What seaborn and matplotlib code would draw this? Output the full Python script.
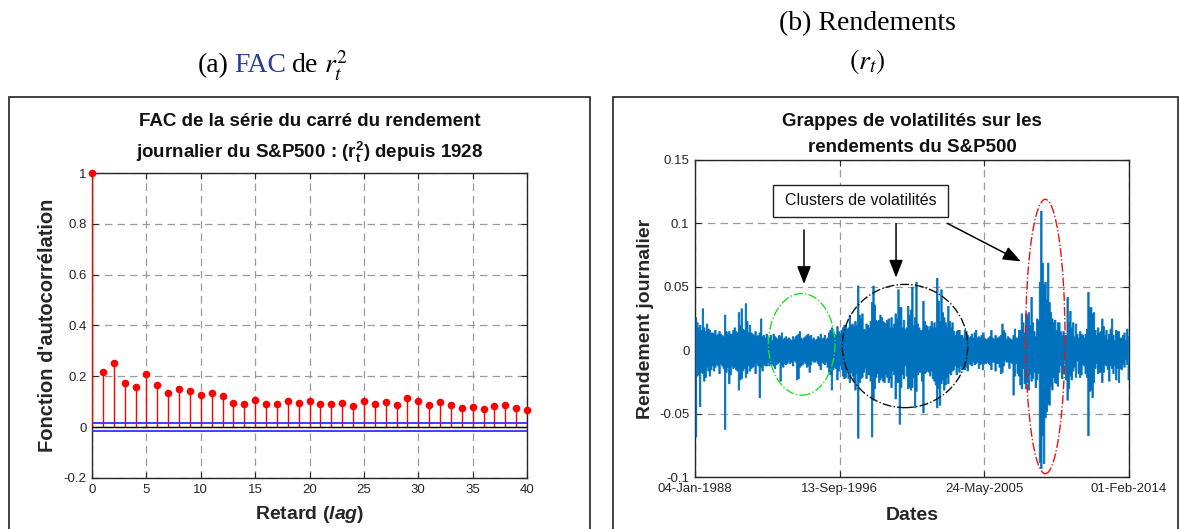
import numpy as np
import pandas as pd
import matplotlib
matplotlib.use("Agg")
import matplotlib.pyplot as plt
import matplotlib.dates as mdates
import seaborn as sns
from matplotlib.patches import Ellipse, Rectangle
from datetime import datetime

# ---------------- data: left panel (ACF of squared returns) ----------------
lags = list(range(41))
acf_values = [1.000, 0.217, 0.253, 0.173, 0.157, 0.210, 0.164, 0.134, 0.150, 0.142,
              0.126, 0.135, 0.122, 0.095, 0.091, 0.106, 0.091, 0.091, 0.102, 0.095,
              0.102, 0.091, 0.091, 0.095, 0.083, 0.102, 0.091, 0.098, 0.087, 0.114,
              0.102, 0.087, 0.098, 0.087, 0.075, 0.079, 0.071, 0.083, 0.087, 0.075,
              0.067]
conf_upper = 0.0150
conf_lower = -0.0135
lag_ticks = [0, 5, 10, 15, 20, 25, 30, 35, 40]
acf_ticks = [-0.2, 0, 0.2, 0.4, 0.6, 0.8, 1]
acf_ticklabels = ["-0.2", "0", "0.2", "0.4", "0.6", "0.8", "1"]

# ---------------- data: right panel (monthly max / min of daily returns) ----------------
monthly_high = [
    0.026, 0.022, 0.018, 0.020, 0.016, 0.033, 0.018, 0.015, 0.021, 0.017, 0.016, 0.014,  # 1988
    0.014, 0.013, 0.016, 0.012, 0.013, 0.015, 0.013, 0.012, 0.011, 0.028, 0.015, 0.013,  # 1989
    0.015, 0.013, 0.013, 0.016, 0.018, 0.015, 0.014, 0.030, 0.020, 0.033, 0.017, 0.016,  # 1990
    0.037, 0.023, 0.014, 0.020, 0.014, 0.013, 0.012, 0.015, 0.011, 0.012, 0.014, 0.025,  # 1991
    0.011, 0.012, 0.010, 0.013, 0.009, 0.010, 0.012, 0.008, 0.013, 0.011, 0.010, 0.009,  # 1992
    0.012, 0.011, 0.014, 0.009, 0.010, 0.011, 0.009, 0.010, 0.009, 0.008, 0.011, 0.009,  # 1993
    0.011, 0.012, 0.013, 0.015, 0.010, 0.009, 0.010, 0.011, 0.012, 0.013, 0.011, 0.012,  # 1994
    0.009, 0.010, 0.008, 0.009, 0.011, 0.010, 0.013, 0.009, 0.010, 0.012, 0.009, 0.010,  # 1995
    0.014, 0.016, 0.018, 0.014, 0.013, 0.012, 0.019, 0.015, 0.013, 0.016, 0.018, 0.020,  # 1996
    0.020, 0.017, 0.018, 0.028, 0.020, 0.021, 0.019, 0.023, 0.020, 0.051, 0.028, 0.025,  # 1997
    0.029, 0.017, 0.016, 0.021, 0.020, 0.018, 0.023, 0.038, 0.051, 0.036, 0.024, 0.023,  # 1998
    0.024, 0.028, 0.026, 0.023, 0.022, 0.021, 0.024, 0.025, 0.018, 0.026, 0.018, 0.021,  # 1999
    0.029, 0.025, 0.048, 0.034, 0.034, 0.018, 0.024, 0.017, 0.018, 0.035, 0.028, 0.032,  # 2000
    0.050, 0.020, 0.026, 0.054, 0.021, 0.018, 0.016, 0.016, 0.039, 0.023, 0.020, 0.019,  # 2001
    0.016, 0.019, 0.023, 0.018, 0.022, 0.018, 0.057, 0.039, 0.023, 0.048, 0.030, 0.026,  # 2002
    0.022, 0.018, 0.035, 0.023, 0.018, 0.022, 0.015, 0.012, 0.015, 0.016, 0.016, 0.012,  # 2003
    0.012, 0.010, 0.016, 0.015, 0.012, 0.010, 0.011, 0.013, 0.010, 0.014, 0.016, 0.010,  # 2004
    0.011, 0.010, 0.012, 0.014, 0.010, 0.009, 0.009, 0.010, 0.011, 0.016, 0.010, 0.009,  # 2005
    0.012, 0.010, 0.010, 0.011, 0.012, 0.021, 0.016, 0.014, 0.009, 0.011, 0.010, 0.009,  # 2006
    0.009, 0.012, 0.017, 0.010, 0.010, 0.016, 0.016, 0.029, 0.022, 0.014, 0.029, 0.028,  # 2007
    0.030, 0.020, 0.042, 0.022, 0.015, 0.011, 0.025, 0.024, 0.054, 0.110, 0.069, 0.052,  # 2008
    0.054, 0.040, 0.069, 0.038, 0.030, 0.025, 0.022, 0.024, 0.016, 0.022, 0.022, 0.015,  # 2009
    0.012, 0.015, 0.012, 0.012, 0.042, 0.022, 0.031, 0.018, 0.022, 0.011, 0.021, 0.013,  # 2010
    0.010, 0.015, 0.013, 0.012, 0.010, 0.013, 0.017, 0.046, 0.034, 0.034, 0.029, 0.030,  # 2011
    0.016, 0.012, 0.018, 0.014, 0.015, 0.025, 0.019, 0.012, 0.016, 0.009, 0.013, 0.017,  # 2012
    0.025, 0.012, 0.008, 0.016, 0.015, 0.015, 0.010, 0.010, 0.012, 0.014, 0.008, 0.017,  # 2013
    0.011,                                                                                # 2014
]
monthly_low = [
    -0.068, -0.020, -0.019, -0.044, -0.017, -0.018, -0.024, -0.021, -0.013, -0.016, -0.020, -0.015,  # 1988
    -0.012, -0.016, -0.013, -0.011, -0.012, -0.018, -0.010, -0.012, -0.014, -0.062, -0.017, -0.013,  # 1989
    -0.026, -0.019, -0.012, -0.014, -0.013, -0.015, -0.016, -0.031, -0.023, -0.022, -0.016, -0.014,  # 1990
    -0.021, -0.018, -0.012, -0.016, -0.014, -0.013, -0.012, -0.018, -0.010, -0.012, -0.037, -0.013,  # 1991
    -0.016, -0.011, -0.012, -0.012, -0.009, -0.012, -0.010, -0.011, -0.012, -0.014, -0.011, -0.010,  # 1992
    -0.009, -0.024, -0.012, -0.013, -0.010, -0.011, -0.010, -0.008, -0.010, -0.009, -0.012, -0.008,  # 1993
    -0.009, -0.023, -0.022, -0.013, -0.012, -0.011, -0.009, -0.010, -0.013, -0.012, -0.017, -0.011,  # 1994
    -0.008, -0.009, -0.009, -0.008, -0.010, -0.012, -0.015, -0.009, -0.010, -0.011, -0.009, -0.013,  # 1995
    -0.017, -0.019, -0.031, -0.015, -0.013, -0.014, -0.023, -0.016, -0.012, -0.015, -0.020, -0.022,  # 1996
    -0.021, -0.017, -0.022, -0.025, -0.017, -0.020, -0.024, -0.031, -0.018, -0.069, -0.025, -0.022,  # 1997
    -0.021, -0.017, -0.014, -0.022, -0.019, -0.019, -0.024, -0.068, -0.039, -0.030, -0.021, -0.018,  # 1998
    -0.025, -0.023, -0.021, -0.024, -0.025, -0.019, -0.021, -0.025, -0.022, -0.029, -0.016, -0.019,  # 1999
    -0.038, -0.025, -0.025, -0.058, -0.029, -0.019, -0.022, -0.012, -0.020, -0.030, -0.029, -0.031,  # 2000
    -0.029, -0.021, -0.045, -0.032, -0.019, -0.017, -0.017, -0.024, -0.049, -0.018, -0.017, -0.016,  # 2001
    -0.017, -0.020, -0.016, -0.022, -0.024, -0.027, -0.045, -0.030, -0.043, -0.026, -0.023, -0.031,  # 2002
    -0.027, -0.021, -0.026, -0.018, -0.019, -0.016, -0.015, -0.012, -0.019, -0.013, -0.017, -0.012,  # 2003
    -0.015, -0.012, -0.015, -0.013, -0.016, -0.010, -0.011, -0.012, -0.009, -0.011, -0.010, -0.009,  # 2004
    -0.014, -0.011, -0.010, -0.015, -0.010, -0.010, -0.009, -0.010, -0.011, -0.015, -0.009, -0.009,  # 2005
    -0.016, -0.010, -0.010, -0.013, -0.018, -0.017, -0.012, -0.008, -0.009, -0.009, -0.014, -0.009,  # 2006
    -0.010, -0.035, -0.020, -0.010, -0.018, -0.020, -0.027, -0.030, -0.014, -0.026, -0.030, -0.025,  # 2007
    -0.031, -0.019, -0.024, -0.022, -0.017, -0.029, -0.023, -0.018, -0.088, -0.093, -0.067, -0.089,  # 2008
    -0.053, -0.048, -0.042, -0.043, -0.028, -0.031, -0.021, -0.025, -0.026, -0.028, -0.017, -0.012,  # 2009
    -0.022, -0.018, -0.008, -0.023, -0.039, -0.030, -0.020, -0.023, -0.016, -0.013, -0.021, -0.008,  # 2010
    -0.018, -0.021, -0.019, -0.011, -0.012, -0.018, -0.021, -0.067, -0.032, -0.031, -0.037, -0.025,  # 2011
    -0.014, -0.010, -0.018, -0.017, -0.017, -0.025, -0.017, -0.011, -0.012, -0.015, -0.024, -0.012,  # 2012
    -0.014, -0.018, -0.012, -0.023, -0.014, -0.025, -0.014, -0.015, -0.011, -0.013, -0.007, -0.011,  # 2013
    -0.023,                                                                                          # 2014
]
date_ticks = ["1988-01-04", "1996-09-13", "2005-05-24", "2014-02-01"]
date_ticklabels = ["04-Jan-1988", "13-Sep-1996", "24-May-2005", "01-Feb-2014"]
ret_ticks = [-0.1, -0.05, 0, 0.05, 0.1, 0.15]
ret_ticklabels = ["-0.1", "-0.05", "0", "0.05", "0.1", "0.15"]

# ---------------- style ----------------
sns.set_theme(style="white")
plt.rcParams["font.family"] = ["Liberation Sans", "DejaVu Sans"]
plt.rcParams["mathtext.fontset"] = "custom"
plt.rcParams["mathtext.rm"] = "Liberation Sans"
plt.rcParams["mathtext.it"] = "Liberation Sans:italic"
plt.rcParams["mathtext.bf"] = "Liberation Sans:bold"
plt.rcParams["mathtext.bfit"] = "Liberation Sans:italic:bold"

W, H = 1180, 529
fig = plt.figure(figsize=(W / 100, H / 100), dpi=100)
fig.patch.set_facecolor("white")


def fx(px):
    return px / W


def fy(py):
    return 1 - py / H


TICK_COL = "#262626"
GRID_KW = dict(color="#9a9a9a", linestyle=(0, (6, 4)), linewidth=0.9)
BLUE = "#0072BD"


def style_axes(ax):
    ax.set_facecolor("white")
    for s in ax.spines.values():
        s.set_visible(True)
        s.set_color("#262626")
        s.set_linewidth(1.0)
    ax.tick_params(direction="in", length=4, width=0.8, color=TICK_COL,
                   labelcolor=TICK_COL, labelsize=9.5,
                   bottom=True, top=True, left=True, right=True, pad=4)
    ax.grid(True, **GRID_KW)
    ax.set_axisbelow(True)


# outer frames
fig.add_artist(Rectangle((fx(9), -0.05), fx(590) - fx(9), fy(97) + 0.05,
                         transform=fig.transFigure, fill=False, lw=1.2, ec="#222222"))
fig.add_artist(Rectangle((fx(613), -0.05), fx(1178) - fx(613), fy(97) + 0.05,
                         transform=fig.transFigure, fill=False, lw=1.2, ec="#222222"))

# ---------------- left panel ----------------
axL = fig.add_axes([fx(92), fy(478), fx(527) - fx(92), fy(173) - fy(478)])
style_axes(axL)
acf_df = pd.DataFrame({"lag": lags, "acf": acf_values})
axL.vlines(acf_df["lag"], 0, acf_df["acf"], color="#ff0000", lw=1.0, zorder=3)
sns.scatterplot(data=acf_df, x="lag", y="acf", ax=axL, color="#ff0000",
                s=30, edgecolor="#ff0000", linewidth=0, zorder=4, clip_on=False)
axL.plot([0, 40], [0, 0], color="black", lw=1.0, zorder=3)
axL.plot([0, 40], [conf_upper, conf_upper], color="#3030ff", lw=1.3, zorder=3)
axL.plot([0, 40], [conf_lower, conf_lower], color="#3030ff", lw=1.3, zorder=3)
axL.set_xlim(0, 40)
axL.set_ylim(-0.2, 1)
axL.set_xticks(lag_ticks)
axL.set_xticklabels([str(t) for t in lag_ticks])
axL.set_yticks(acf_ticks)
axL.set_yticklabels(acf_ticklabels)
axL.set_xlabel(r"Retard ($\mathbfit{lag}$)", fontsize=14, fontweight="bold", color="#262626")
axL.set_ylabel("Fonction d'autocorrélation", fontsize=14.5, fontweight="bold", color="#262626")
axL.xaxis.label.set_va("center")
axL.yaxis.label.set_va("center")
axL.xaxis.set_label_coords(0.5, -0.121)
axL.yaxis.set_label_coords(-0.103, 0.5)

fig.text(fx(310), fy(122), "FAC de la série du carré du rendement",
         ha="center", va="center", fontsize=13.5, fontweight="bold", color="#111111")
fig.text(fx(310), fy(152), r"journalier du S&P500 : ($\mathbf{r_t^2}$) depuis 1928",
         ha="center", va="center", fontsize=13.5, fontweight="bold", color="#111111")

# ---------------- right panel ----------------
axR = fig.add_axes([fx(695), fy(477), fx(1129) - fx(695), fy(160) - fy(477)])
style_axes(axR)
months = pd.date_range("1988-01-01", periods=len(monthly_high), freq="MS") + pd.Timedelta(days=14)
ret_df = pd.DataFrame({"date": mdates.date2num(months), "high": monthly_high, "low": monthly_low})
axR.fill_between(ret_df["date"], ret_df["low"], ret_df["high"], step="mid",
                 color=BLUE, lw=0.6, edgecolor=BLUE, zorder=3)
sns.lineplot(x=ret_df["date"], y=[0.0] * len(ret_df), ax=axR, color=BLUE, lw=1.0, zorder=3)
d_start = mdates.date2num(datetime(1988, 1, 4))
d_end = mdates.date2num(datetime(2014, 2, 1))
axR.set_xlim(d_start, d_end)
axR.set_ylim(-0.1, 0.15)
axR.set_xticks([mdates.date2num(pd.Timestamp(d)) for d in date_ticks])
axR.set_xticklabels(date_ticklabels)
axR.set_yticks(ret_ticks)
axR.set_yticklabels(ret_ticklabels)
axR.set_xlabel("Dates", fontsize=14, fontweight="bold", color="#262626")
axR.set_ylabel("Rendement journalier", fontsize=14, fontweight="bold", color="#262626")
axR.xaxis.label.set_va("center")
axR.yaxis.label.set_va("center")
axR.xaxis.set_label_coords(0.5, -0.12)
axR.yaxis.set_label_coords(-0.115, 0.5)


def yr(f):
    return d_start + (f - 1988.0) * 365.25


# ellipses (cluster highlights)
axR.add_patch(Ellipse((yr(1994.41), 0.0046), 2 * 2.0 * 365.25, 2 * 0.0401,
                      fill=False, ec="#22dd22", lw=1.0, ls="-.", zorder=5))
axR.add_patch(Ellipse((yr(2000.62), 0.0033), 2 * 3.77 * 365.25, 2 * 0.0486,
                      fill=False, ec="#111111", lw=1.0, ls="-.", zorder=5))
axR.add_patch(Ellipse((yr(2009.05), 0.0108), 2 * 1.18 * 365.25, 2 * 0.1082,
                      fill=False, ec="#ee1111", lw=1.0, ls="-.", zorder=5))

# annotation box and arrows
axR.add_patch(Rectangle((yr(1992.69), 0.105), yr(2003.2) - yr(1992.69), 0.0253,
                        fill=True, fc="white", ec="#222222", lw=1.0, zorder=6))
axR.text(yr(1997.95), 0.1178, "Clusters de volatilités", ha="center", va="center",
         fontsize=11.5, color="#111111", zorder=7)
arrow_kw = dict(arrowstyle="-|>,head_length=0.9,head_width=0.35", color="black", lw=1.1)
axR.annotate("", xy=(yr(1994.55), 0.050), xytext=(yr(1994.55), 0.097), arrowprops=arrow_kw, zorder=7)
axR.annotate("", xy=(yr(2000.08), 0.055), xytext=(yr(2000.08), 0.102), arrowprops=arrow_kw, zorder=7)
axR.annotate("", xy=(yr(2007.73), 0.069), xytext=(yr(2003.02), 0.101), arrowprops=arrow_kw, zorder=7)

fig.text(fx(912), fy(122), "Grappes de volatilités sur les",
         ha="center", va="center", fontsize=13.5, fontweight="bold", color="#111111")
fig.text(fx(912), fy(147), "rendements du S&P500",
         ha="center", va="center", fontsize=13.5, fontweight="bold", color="#111111")

# ---------------- captions (serif) ----------------
serif = ["Liberation Serif", "DejaVu Serif"]
fig.text(fx(867), fy(24), "(b) Rendements", ha="center", va="center",
         fontsize=20, family=serif, color="black")
t = fig.text(fx(867), fy(62), r"$(r_t)$", ha="center", va="center",
             fontsize=20, family=serif, color="black")
t.set_math_fontfamily("stix")

fig.canvas.draw()
r = fig.canvas.get_renderer()
y_a = fy(66)
t1 = fig.text(fx(198), y_a, "(a)", ha="left", va="center", fontsize=20, family=serif, color="black")
fig.canvas.draw()
x1 = t1.get_window_extent(r).x1 / fig.bbox.width
t2 = fig.text(x1 + 5 / W, y_a, "FAC", ha="left", va="center", fontsize=20, family=serif, color="#2a3d9a")
fig.canvas.draw()
x2 = t2.get_window_extent(r).x1 / fig.bbox.width
t3 = fig.text(x2 + 5 / W, y_a, r"de $r_t^2$", ha="left", va="center", fontsize=20, family=serif, color="black")
t3.set_math_fontfamily("stix")

fig.savefig("out.png", dpi=100, facecolor="white")
